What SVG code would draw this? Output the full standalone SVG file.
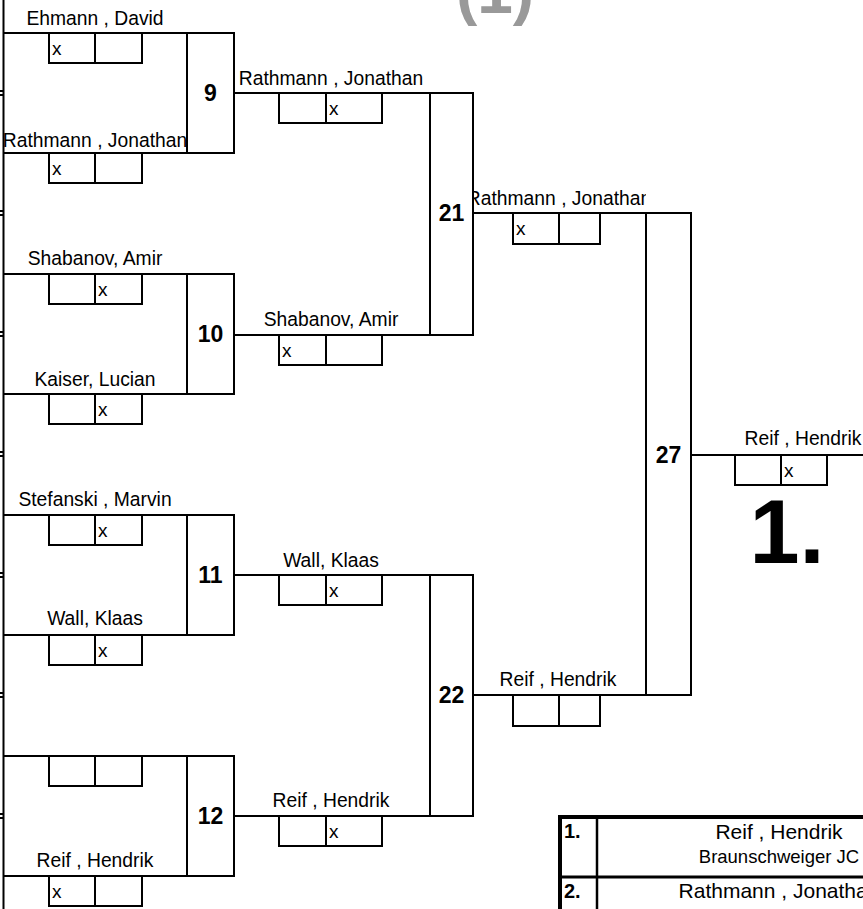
<svg xmlns="http://www.w3.org/2000/svg" width="863" height="909" viewBox="0 0 863 909">
<style>
.ln{stroke:#000;stroke-width:2;fill:none}
.t{font-family:"Liberation Sans",Arial,sans-serif;fill:#000}
.nm{font-size:19.3px;text-anchor:middle}
.sx{font-size:19px}
.num{font-size:23px;font-weight:bold;text-anchor:middle}
</style>
<defs>
<path id="sb1" class="ln" d="M0,0 V30 H93 V0 M46,0 V30"/>
<path id="sb2" class="ln" d="M0,0 V30 H103 V0 M47,0 V30"/>
<clipPath id="c1"><rect x="4" y="0" width="183" height="909"/></clipPath>
<clipPath id="c3"><rect x="474" y="180" width="172" height="540"/></clipPath>
</defs>
<rect width="863" height="909" fill="#fff"/>
<text class="t" x="495" y="13" font-size="64" font-weight="bold" text-anchor="middle" style="fill:#999">(1)</text>
<g id="frame">
<line class="ln" x1="3.5" y1="0" x2="3.5" y2="909"/>
<path class="ln" d="M0,91 H4 M0,95 H4 M0,211 H4 M0,215 H4 M0,332 H4 M0,336 H4 M0,452 H4 M0,456 H4 M0,573 H4 M0,577 H4 M0,693 H4 M0,697 H4 M0,814 H4 M0,818 H4"/>
</g>
<g id="match9">
<path class="ln" d="M3,33 H187 M3,153 H187"/>
<rect class="ln" x="187" y="33" width="47" height="120"/>
<text class="t num" x="210.5" y="101">9</text>
<use href="#sb1" x="49" y="33"/>
<use href="#sb1" x="49" y="153"/>
<text class="t sx" x="52" y="55">x</text>
<text class="t sx" x="52" y="175">x</text>
<g clip-path="url(#c1)">
<text class="t nm" x="95" y="25">Ehmann , David</text>
<text class="t nm" x="95" y="147">Rathmann , Jonathan</text>
</g>
</g>
<g id="match10">
<path class="ln" d="M3,274 H187 M3,394 H187"/>
<rect class="ln" x="187" y="274" width="47" height="120"/>
<text class="t num" x="210.5" y="342">10</text>
<use href="#sb1" x="49" y="274"/>
<use href="#sb1" x="49" y="394"/>
<text class="t sx" x="98" y="296">x</text>
<text class="t sx" x="98" y="416">x</text>
<text class="t nm" x="95" y="265">Shabanov, Amir</text>
<text class="t nm" x="95" y="386">Kaiser, Lucian</text>
</g>
<g id="match11">
<path class="ln" d="M3,515 H187 M3,635 H187"/>
<rect class="ln" x="187" y="515" width="47" height="120"/>
<text class="t num" x="210.5" y="583">11</text>
<use href="#sb1" x="49" y="515"/>
<use href="#sb1" x="49" y="635"/>
<text class="t sx" x="98" y="537">x</text>
<text class="t sx" x="98" y="657">x</text>
<text class="t nm" x="95" y="506">Stefanski , Marvin</text>
<text class="t nm" x="95" y="625">Wall, Klaas</text>
</g>
<g id="match12">
<path class="ln" d="M3,756 H187 M3,876 H187"/>
<rect class="ln" x="187" y="756" width="47" height="120"/>
<text class="t num" x="210.5" y="824">12</text>
<use href="#sb1" x="49" y="756"/>
<use href="#sb1" x="49" y="876"/>
<text class="t sx" x="52" y="898">x</text>
<text class="t nm" x="95" y="867">Reif , Hendrik</text>
</g>
<g id="match21">
<rect class="ln" x="430" y="93" width="43" height="242"/>
<text class="t num" x="451.5" y="221">21</text>
</g>
<g id="match22">
<rect class="ln" x="430" y="575" width="43" height="241"/>
<text class="t num" x="451.5" y="703">22</text>
</g>
<g id="match27">
<rect class="ln" x="646" y="213" width="45" height="482"/>
<text class="t num" x="668.5" y="463">27</text>
</g>
<g id="connectors">
<path class="ln" d="M234,93 H430 M234,335 H430 M234,575 H430 M234,816 H430 M473,213 H646 M473,695 H646 M691,455 H863"/>
</g>
<g id="results-r2">
<text class="t nm" x="331" y="85">Rathmann , Jonathan</text>
<use href="#sb2" x="279" y="93"/>
<text class="t sx" x="329" y="115">x</text>
<text class="t nm" x="331" y="326">Shabanov, Amir</text>
<use href="#sb2" x="279" y="335"/>
<text class="t sx" x="282" y="357">x</text>
<text class="t nm" x="331" y="567">Wall, Klaas</text>
<use href="#sb2" x="279" y="575"/>
<text class="t sx" x="329" y="597">x</text>
<text class="t nm" x="331" y="807">Reif , Hendrik</text>
<use href="#sb2" x="279" y="816"/>
<text class="t sx" x="329" y="838">x</text>
</g>
<g id="results-r3">
<g clip-path="url(#c3)">
<text class="t nm" x="559" y="205">Rathmann , Jonathan</text>
</g>
<path class="ln" d="M513,213 V244 H600 V213 M559,213 V244"/>
<text class="t sx" x="516" y="235">x</text>
<text class="t nm" x="558" y="686">Reif , Hendrik</text>
<path class="ln" d="M513,695 V726 H600 V695 M559,695 V726"/>
</g>
<g id="winner">
<text class="t nm" x="803" y="445">Reif , Hendrik</text>
<path class="ln" d="M735,455 V485 H827 V455 M781,455 V485"/>
<text class="t sx" x="784" y="477">x</text>
<text class="t" x="787" y="563" font-size="90" font-weight="bold" text-anchor="middle">1.</text>
</g>
<g id="standings">
<rect x="560" y="817" width="400" height="200" fill="none" stroke="#000" stroke-width="4"/>
<line x1="597" y1="817" x2="597" y2="909" stroke="#000" stroke-width="2.5"/>
<line x1="560" y1="877" x2="863" y2="877" stroke="#000" stroke-width="3"/>
<text class="t" x="564" y="838" font-size="20" font-weight="bold">1.</text>
<text class="t" x="564" y="898" font-size="20" font-weight="bold">2.</text>
<text class="t" x="779" y="839" font-size="21" text-anchor="middle">Reif , Hendrik</text>
<text class="t" x="779" y="863" font-size="18.5" text-anchor="middle">Braunschweiger JC</text>
<text class="t" x="779" y="898" font-size="21" text-anchor="middle">Rathmann , Jonathan</text>
</g>
</svg>
